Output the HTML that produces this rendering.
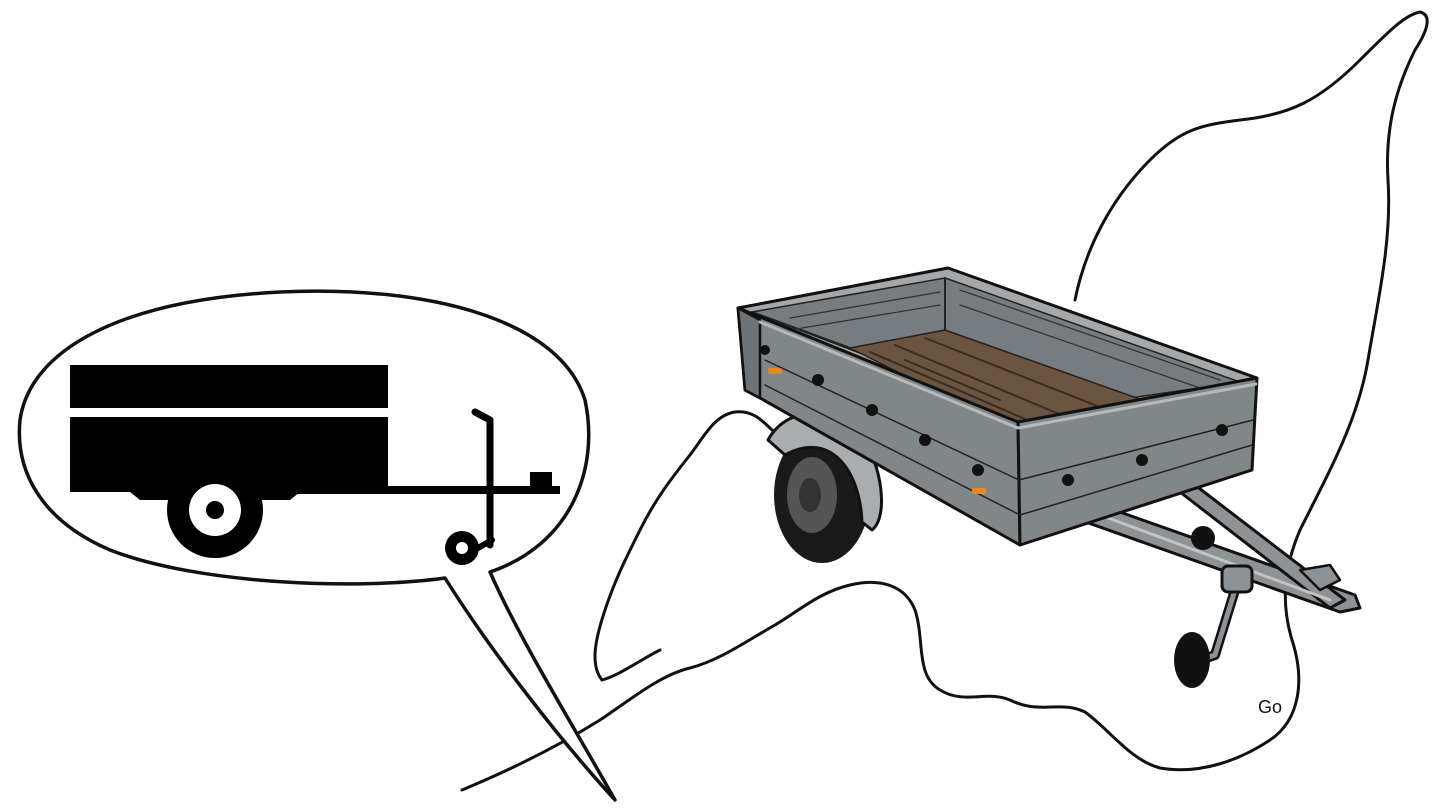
<!DOCTYPE html>
<html><head><meta charset="utf-8"><style>html,body{margin:0;padding:0;background:#fff}svg{display:block}</style></head>
<body>
<svg width="1440" height="812" viewBox="0 0 1440 812" xmlns="http://www.w3.org/2000/svg" stroke-linejoin="round" stroke-linecap="round">
<!-- map outline -->
<path d="M1075,300 C1085,250 1110,200 1150,160 C1180,130 1200,125 1240,120 C1290,115 1320,100 1360,60 C1390,30 1405,15 1420,12 C1432,15 1428,30 1415,50 C1395,90 1385,130 1388,180 C1392,240 1378,300 1368,360 C1358,420 1330,470 1300,530 C1285,565 1280,600 1292,640 C1305,680 1300,720 1270,740 C1240,760 1200,775 1160,768 C1130,760 1110,730 1085,712 C1060,700 1040,715 1010,700 C985,690 965,705 940,690 C915,675 925,640 915,610 C905,585 880,578 850,585 C820,592 800,610 775,625 C745,642 720,660 690,668 C660,675 630,700 600,720 C560,745 510,770 462,790" fill="none" stroke="#111" stroke-width="3"/>
<path d="M602,680 C590,665 595,640 605,610 C615,580 625,560 640,530 C655,500 670,480 690,455 C705,435 715,415 735,412 C752,410 762,420 772,430" fill="none" stroke="#111" stroke-width="3"/>
<path d="M602,680 C620,675 640,660 660,650" fill="none" stroke="#111" stroke-width="3"/>
<!-- speech bubble -->
<path d="M445,578 C360,590 200,585 110,550 C40,520 15,470 20,420 C30,350 120,300 280,292 C430,285 560,320 585,400 C600,470 570,545 490,572 C520,640 570,720 615,800 C560,740 490,650 445,578 Z" fill="#fff" stroke="#111" stroke-width="3.5"/>
<!-- silhouette -->
<rect x="70" y="365" width="318" height="43" fill="#000"/>
<rect x="70" y="417" width="318" height="75" fill="#000"/>
<path d="M130,492 L300,492 L290,500 L140,500 Z" fill="#000"/>
<circle cx="215" cy="510" r="48" fill="#000"/>
<circle cx="215" cy="510" r="26" fill="#fff"/>
<circle cx="215" cy="510" r="9" fill="#000"/>
<rect x="290" y="486" width="270" height="8" fill="#000"/>
<rect x="530" y="472" width="22" height="18" fill="#000"/>
<path d="M475,412 L490,420 L490,545" fill="none" stroke="#000" stroke-width="7"/>
<circle cx="462" cy="548" r="17" fill="#000"/>
<circle cx="462" cy="548" r="6" fill="#fff"/>
<path d="M478,548 L492,540" stroke="#000" stroke-width="6"/>
<!-- trailer drawbar: two bars -->
<path d="M1080,520 L1340,612 L1360,608 L1355,595 L1100,505 Z" fill="#8d9296" stroke="#111" stroke-width="3"/>
<path d="M1180,492 L1195,485 L1345,600 L1330,608 Z" fill="#8d9296" stroke="#111" stroke-width="3"/>
<path d="M1100,515 L1330,600" stroke="#c0c4c7" stroke-width="3"/>
<path d="M1235,590 L1215,655 L1195,662" fill="none" stroke="#111" stroke-width="10"/>
<path d="M1235,590 L1215,655 L1195,662" fill="none" stroke="#8d9296" stroke-width="5"/>
<ellipse cx="1192" cy="660" rx="18" ry="28" fill="#111"/>
<circle cx="1203" cy="538" r="12" fill="#111"/>
<rect x="1222" y="566" width="30" height="26" rx="6" fill="#8d9296" stroke="#111" stroke-width="3"/>
<path d="M1300,570 L1330,565 L1340,580 L1320,590 Z" fill="#8d9296" stroke="#111" stroke-width="2.5"/>
<!-- wheel -->
<ellipse cx="822" cy="495" rx="48" ry="68" fill="#1a1a1a"/>
<ellipse cx="812" cy="495" rx="25" ry="38" fill="#555"/>
<ellipse cx="810" cy="495" rx="11" ry="17" fill="#333"/>
<path d="M768,440 C790,400 850,405 870,450 C885,485 885,520 872,530 L862,522 C860,470 830,430 785,455 Z" fill="#a9adb0" stroke="#111" stroke-width="3"/>
<!-- box: rim + inner walls -->
<path d="M738,308 L948,268 L1257,378 L1018,422 Z" fill="#a4a8ab" stroke="#111" stroke-width="3"/>
<path d="M752,312 L945,278 L1240,382 L1020,414 Z" fill="#777c80" stroke="#222" stroke-width="1.5"/>
<path d="M945,278 L945,330 M752,312 L850,348" fill="none" stroke="#222" stroke-width="2"/>
<path d="M790,318 L940,292 M790,330 L940,305 M960,290 L1220,380 M960,305 L1200,388" fill="none" stroke="#333" stroke-width="1.3"/>
<path d="M850,348 L945,330 L1148,402 L1032,440 Z" fill="#6b5440" stroke="#222" stroke-width="1.5"/>
<path d="M870,352 L1055,432 M895,345 L1085,425 M925,338 L1115,413 M905,360 L1000,400" stroke="#3a2c20" stroke-width="2"/>
<!-- front & side faces -->
<path d="M738,308 L1018,422 L1020,545 L760,398 L745,390 Z" fill="#818689" stroke="#111" stroke-width="3"/>
<path d="M738,308 L760,320 L760,398 L745,390 Z" fill="#6e7377" stroke="#111" stroke-width="2.5"/>
<path d="M1018,422 L1257,378 L1252,470 L1020,545 Z" fill="#818689" stroke="#111" stroke-width="3"/>
<path d="M760,322 L1018,428 L1256,384" fill="none" stroke="#b5b9bc" stroke-width="3"/>
<path d="M765,360 L1019,480 L1253,420 M765,385 L1020,515 L1252,445" fill="none" stroke="#222" stroke-width="1.5"/>
<g fill="#111"><circle cx="765" cy="350" r="5"/><circle cx="818" cy="380" r="6"/><circle cx="872" cy="410" r="6"/><circle cx="925" cy="440" r="6"/><circle cx="978" cy="470" r="6"/><circle cx="1068" cy="480" r="6"/><circle cx="1142" cy="460" r="6"/><circle cx="1222" cy="430" r="6"/></g>
<rect x="768" y="368" width="14" height="6" rx="2" fill="#e8891e"/>
<rect x="972" y="488" width="14" height="6" rx="2" fill="#e8891e"/>
<text x="1258" y="713" font-family="Liberation Sans, sans-serif" font-size="18" fill="#111">Go</text>
</svg>
</body></html>
